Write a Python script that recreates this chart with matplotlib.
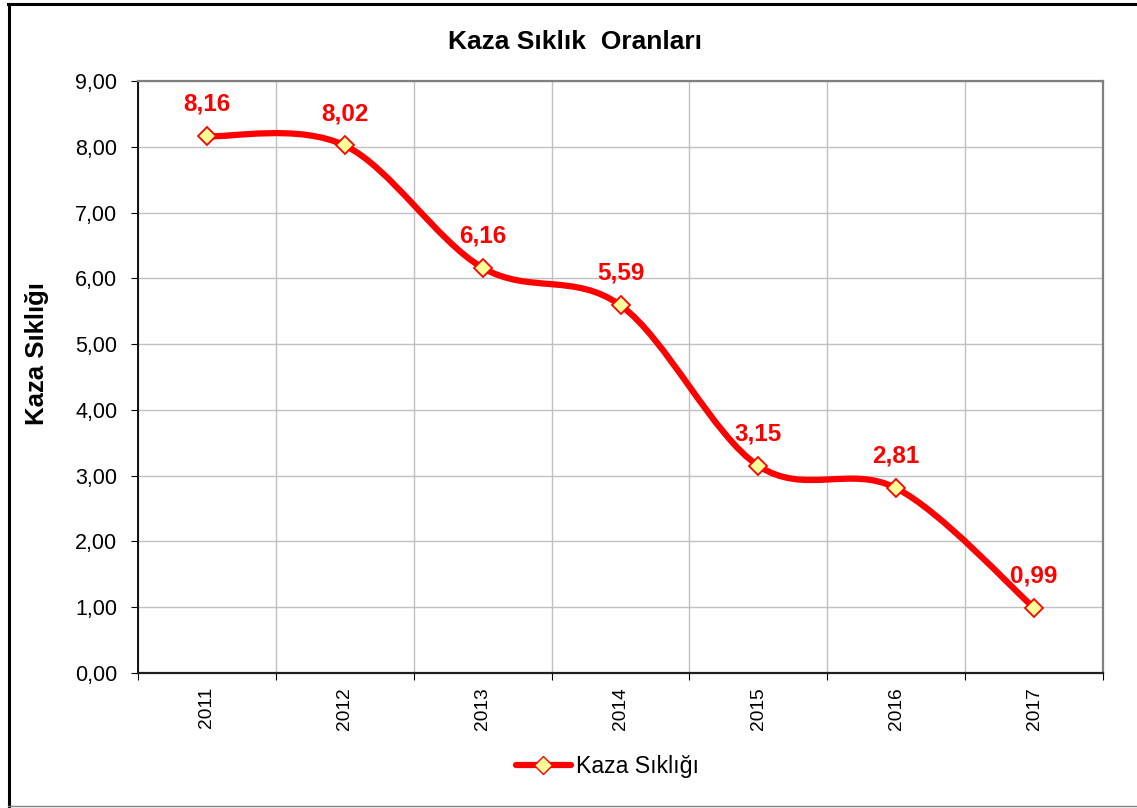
import numpy as np
import matplotlib
matplotlib.use('Agg')
import matplotlib.pyplot as plt
from matplotlib.path import Path
from matplotlib.patches import PathPatch
from matplotlib.lines import Line2D
from matplotlib.ticker import FuncFormatter, FixedLocator

plt.rcParams['font.family'] = ['Liberation Sans', 'DejaVu Sans']

# Data
years = ['2011', '2012', '2013', '2014', '2015', '2016', '2017']
rates = [8.16, 8.02, 6.16, 5.59, 3.15, 2.81, 0.99]
series_name = 'Kaza Sıklığı'

x = np.arange(len(years))
y = np.array(rates)

W, H = 1137, 808
fig = plt.figure(figsize=(W / 100, H / 100), dpi=100)
ax = fig.add_axes([138 / W, 1 - 673 / H, (1103 - 138) / W, (673 - 81) / H])

# Smoothed line (Excel-style Bezier through the points)
verts = [(x[0], y[0])]
codes = [Path.MOVETO]
n = len(x)
for i in range(n - 1):
    p0 = np.array([x[max(i - 1, 0)], y[max(i - 1, 0)]])
    p1 = np.array([x[i], y[i]])
    p2 = np.array([x[i + 1], y[i + 1]])
    p3 = np.array([x[min(i + 2, n - 1)], y[min(i + 2, n - 1)]])
    c1 = p1 + (p2 - p0) / 6
    c2 = p2 - (p3 - p1) / 6
    verts += [tuple(c1), tuple(c2), tuple(p2)]
    codes += [Path.CURVE4] * 3
curve = PathPatch(Path(verts, codes), facecolor='none', edgecolor='#FF0000',
                  lw=4.5, capstyle='round', joinstyle='round', zorder=3)
ax.add_patch(curve)

ax.plot(x, y, linestyle='none', marker='D', markersize=9,
        markerfacecolor='#FFFF99', markeredgecolor='#FF0000', markeredgewidth=1.3, zorder=4)

for xi, yi in zip(x, y):
    ax.annotate(f'{yi:.2f}'.replace('.', ','), (xi, yi), xytext=(0, 23),
                textcoords='offset points', ha='center', va='center',
                color='#FF0000', fontsize=17.5, fontweight='bold', zorder=5)

ax.set_xlim(-0.5, n - 0.5)
ax.set_ylim(0, 9)
ax.set_yticks(np.arange(0, 10, 1))
ax.yaxis.set_major_formatter(FuncFormatter(lambda v, p: f'{v:.2f}'.replace('.', ',')))

ax.xaxis.set_major_locator(FixedLocator(np.arange(-0.5, n, 1)))
ax.xaxis.set_minor_locator(FixedLocator(x))
ax.set_xticklabels([])
ax.set_xticklabels(years, minor=True, rotation=90, fontsize=13.8)
ax.tick_params(axis='x', which='minor', length=0, pad=10)
ax.tick_params(axis='x', which='major', length=5, direction='out', color='black')
ax.tick_params(axis='y', length=5, direction='out', labelsize=15.5, pad=10)

ax.grid(True, which='major', color='#C0C0C0', linewidth=1)
ax.set_axisbelow(True)
ax.spines['left'].set_color('black')
ax.spines['bottom'].set_color('#202020')
ax.spines['left'].set_linewidth(1.3)
ax.spines['bottom'].set_linewidth(1.6)
ax.spines['top'].set_color('#808080')
ax.spines['right'].set_color('#808080')
ax.spines['top'].set_linewidth(1.6)
ax.spines['right'].set_linewidth(1.6)

ax.set_ylabel(series_name, fontsize=18.5, fontweight='bold')
ax.yaxis.set_label_coords(-0.092, 0.539)

fig.text(0.506, 0.948, 'Kaza Sıklık  Oranları', ha='center', va='center',
         fontsize=19, fontweight='bold')

handle = Line2D([], [], color='#FF0000', lw=4.5, solid_capstyle='round', marker='D',
                markersize=9, markerfacecolor='#FFFF99', markeredgecolor='#FF0000')
fig.legend([handle], [series_name], loc='center', bbox_to_anchor=(0.534, 0.051),
           frameon=False, fontsize=16.7, handlelength=2.4, handletextpad=0.2)

# Outer chart border (left/top black, bottom thin gray, right cut off)
fig.add_artist(Line2D([9 / W, 9 / W], [1 - 4 / H, 1 - 806 / H], color='black', lw=2.2,
                      transform=fig.transFigure))
fig.add_artist(Line2D([8 / W, 1], [1 - 4 / H, 1 - 4 / H], color='black', lw=2.2,
                      transform=fig.transFigure))
fig.add_artist(Line2D([8 / W, 1], [1 - 806 / H, 1 - 806 / H], color='#808080', lw=1,
                      transform=fig.transFigure))

plt.savefig('out.png', dpi=100)
